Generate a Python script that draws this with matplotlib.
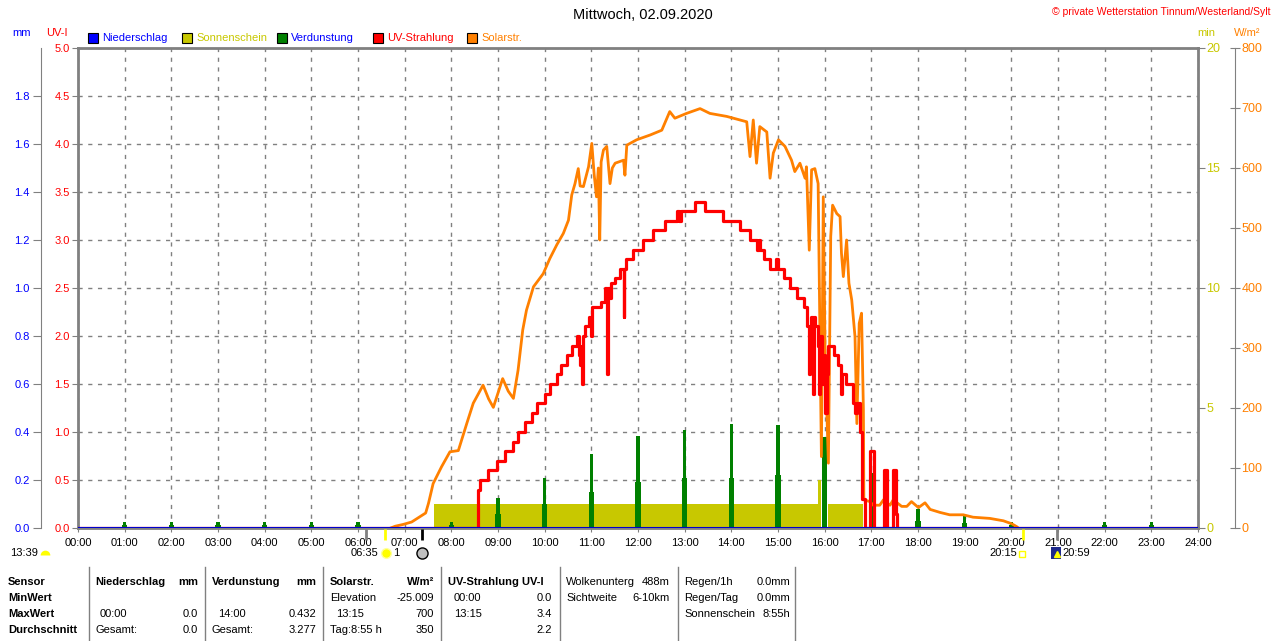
import numpy as np
import matplotlib
matplotlib.use("Agg")
import matplotlib.pyplot as plt
from matplotlib.patches import Rectangle
from matplotlib.lines import Line2D

plt.rcParams['font.family'] = ['Liberation Sans', 'DejaVu Sans']
plt.rcParams['font.size'] = 8

# --- data (hours of day) ---
hour_labels = ["%02d:00" % h for h in range(25)]

# UV index, step values
uv_t = [0, 8.58, 8.61, 8.79, 8.97, 9.15, 9.33, 9.43, 9.58, 9.72, 9.83, 10.01, 10.11, 10.26,
        10.36, 10.47, 10.58, 10.69, 10.74, 10.76, 10.79, 10.81, 10.83, 10.86, 10.94, 10.99,
        11.02, 11.20, 11.29, 11.33, 11.35, 11.40, 11.43, 11.51, 11.61, 11.69, 11.71, 11.74,
        11.90, 12.11, 12.33, 12.58, 12.83, 12.88, 12.92, 13.22, 13.43, 13.83, 14.18, 14.40,
        14.54, 14.59, 14.62, 14.69, 14.83, 14.95, 15.00, 15.12, 15.25, 15.40, 15.55, 15.63,
        15.66, 15.69, 15.71, 15.74, 15.77, 15.80, 15.85, 15.88, 15.91, 15.95, 15.98, 16.01,
        16.04, 16.08, 16.20, 16.28, 16.34, 16.37, 16.45, 16.52, 16.60, 16.66, 16.70, 16.76,
        16.80, 16.86, 16.97, 17.06, 17.28, 17.33, 17.47, 17.53, 17.56, 24]
uv_v = [0, 0.4, 0.5, 0.6, 0.7, 0.8, 0.9, 1.0, 1.1, 1.2, 1.3, 1.4, 1.5, 1.6,
        1.7, 1.8, 1.9, 2.0, 1.8, 1.7, 1.9, 1.5, 2.0, 2.1, 2.2, 2.0,
        2.3, 2.35, 2.5, 1.6, 2.5, 2.4, 2.55, 2.6, 2.7, 2.2, 2.7, 2.8,
        2.9, 3.0, 3.1, 3.2, 3.3, 3.2, 3.3, 3.4, 3.3, 3.2, 3.1, 3.0,
        2.9, 3.0, 2.9, 2.8, 2.7, 2.8, 2.7, 2.6, 2.5, 2.4, 2.3, 2.1,
        1.6, 2.1, 2.2, 1.4, 2.2, 2.1, 1.9, 1.4, 2.0, 1.5, 1.8, 1.2,
        1.6, 1.9, 1.8, 1.7, 1.4, 1.6, 1.5, 1.5, 1.3, 1.2, 1.3, 1.0,
        0.3, 0, 0.8, 0, 0.6, 0, 0.6, 0.15, 0, 0]

# solar radiation W/m2
sol_t = [6.70, 6.80, 6.97, 7.15, 7.33, 7.45, 7.51, 7.61, 7.79, 7.97, 8.15, 8.33, 8.47, 8.68,
         8.80, 8.90, 9.10, 9.22, 9.33, 9.43, 9.53, 9.61, 9.76, 9.97, 10.11, 10.26, 10.40,
         10.51, 10.58, 10.65, 10.72, 10.76, 10.83, 10.94, 11.01, 11.06, 11.11, 11.15, 11.18,
         11.21, 11.26, 11.33, 11.40, 11.45, 11.51, 11.69, 11.72, 11.76, 11.97, 12.26, 12.51,
         12.68, 12.79, 13.04, 13.33, 13.54, 13.90, 14.33, 14.40, 14.47, 14.54, 14.61, 14.76,
         14.83, 14.90, 15.01, 15.15, 15.29, 15.36, 15.47, 15.58, 15.61, 15.67, 15.72, 15.79,
         15.86, 15.93, 15.97, 16.01, 16.08, 16.13, 16.17, 16.26, 16.33, 16.36, 16.40, 16.47,
         16.52, 16.58, 16.65, 16.69, 16.74, 16.79, 16.83, 16.84, 16.97, 17.04, 17.18, 17.26,
         17.40, 17.47, 17.65, 17.76, 17.86, 18.01, 18.15, 18.26, 18.47, 18.68, 18.97, 19.18,
         19.54, 19.83, 20.01, 20.12, 20.15]
sol_v = [0, 3, 6, 10, 19, 25, 41, 74, 102, 127, 129, 174, 208, 238,
         215, 201, 249, 228, 216, 263, 330, 363, 402, 424, 449, 472, 491,
         513, 555, 574, 599, 570, 569, 602, 641, 590, 552, 600, 480,
         610, 630, 636, 574, 600, 608, 613, 588, 638, 647, 655, 663,
         694, 683, 691, 699, 691, 686, 677, 619, 680, 608, 669, 660,
         583, 625, 647, 636, 613, 594, 608, 583, 602, 463, 597, 599,
         574, 119, 552, 286, 108, 486, 538, 524, 519, 458, 419, 480,
         408, 380, 319, 174, 341, 358, 197, 47, 44, 38, 38, 47,
         38, 47, 36, 36, 44, 34, 42, 31, 26, 22, 22, 18,
         16, 12, 7, 2, 0]

# sunshine minutes (step)
sun_t = [0, 7.63, 15.85, 15.93, 16.08, 16.83, 24]
sun_v = [0, 1, 2, 0, 1, 0, 0]

# evaporation mm per hour
evap_h = [1, 2, 3, 4, 5, 6, 8, 9, 10, 11, 12, 13, 14, 15, 16, 17, 18, 19, 20, 22, 23]
evap_hi = [0.025, 0.025, 0.025, 0.025, 0.025, 0.025, 0.025, 0.126, 0.207, 0.308, 0.383,
           0.408, 0.432, 0.43, 0.38, 0.23, 0.078, 0.051, 0.026, 0.025, 0.025]
evap_lo = [0.012, 0.012, 0.012, 0.012, 0.012, 0.012, 0.012, 0.06, 0.10, 0.15, 0.19,
           0.21, 0.21, 0.22, 0.38, 0.23, 0.03, 0.02, 0.012, 0.012, 0.012]

# sun / moon event marks below the axis
mark_t = [6.17, 6.58, 7.37, 20.25, 20.98]
mark_c = ['#808080', '#FFFF00', '#000000', '#FFFF00', '#808080']

OLIVE = '#C8C800'
ORANGE = '#FF8000'
GRAY = '#808080'

W, H = 1280, 641
def fx(x):
    return x / W
def fy(y):
    return 1 - y / H

fig = plt.figure(figsize=(12.8, 6.41), dpi=100)
ax = fig.add_axes([fx(78), fy(528), 1120 / W, 480 / H])

ax.set_xlim(0, 24)
ax.set_ylim(0, 5)
ax.set_xticks(range(25))
ax.set_xticklabels(hour_labels)
ax.set_yticks(np.arange(0, 5.01, 0.5))
ax.set_yticklabels(["%.1f" % v for v in np.arange(0, 5.01, 0.5)])
ax.tick_params(axis='y', colors=GRAY, labelcolor='red', length=4, pad=2)
ax.tick_params(axis='x', colors=GRAY, labelcolor='black', length=3, pad=4)
ax.grid(True, color=GRAY, linestyle=(0, (3, 4)), linewidth=1)
for s in ax.spines.values():
    s.set_color(GRAY)
    s.set_linewidth(2)

def clean(a):
    for s in a.spines.values():
        s.set_visible(False)

# sunshine
ax_min = ax.twinx()
clean(ax_min)
ax_min.set_ylim(0, 20)
ax_min.set_yticks([0, 5, 10, 15, 20])
ax_min.tick_params(axis='y', colors=GRAY, labelcolor=OLIVE, length=5, pad=1, labelsize=9)
ax_min.fill_between(sun_t, sun_v, step='post', color=OLIVE, linewidth=0)

# evaporation
ax_mm = ax.twinx()
clean(ax_mm)
ax_mm.spines['left'].set_visible(True)
ax_mm.spines['left'].set_position(('axes', -0.033))
ax_mm.spines['left'].set_color(GRAY)
ax_mm.yaxis.set_ticks_position('left')
ax_mm.set_ylim(0, 2.0)
ax_mm.set_yticks(np.arange(0, 1.81, 0.2))
ax_mm.set_yticklabels(["%.1f" % v for v in np.arange(0, 1.81, 0.2)])
ax_mm.tick_params(axis='y', colors=GRAY, labelcolor='blue', length=6, pad=2)
ax_mm.bar(evap_h, evap_lo, width=0.11, color='#008000', linewidth=0)
ax_mm.bar(evap_h, evap_hi, width=0.065, color='#008000', linewidth=0)

# solar
ax_sol = ax.twinx()
clean(ax_sol)
ax_sol.spines['right'].set_visible(True)
ax_sol.spines['right'].set_position(('axes', 1.033))
ax_sol.spines['right'].set_color(GRAY)
ax_sol.set_ylim(0, 800)
ax_sol.set_yticks(range(0, 801, 100))
ax_sol.tick_params(axis='y', colors=GRAY, labelcolor=ORANGE, direction='inout', length=7, pad=1, labelsize=9)
ax_sol.plot(sol_t, sol_v, color=ORANGE, linewidth=2)

# uv
ax_uv = ax.twinx()
clean(ax_uv)
ax_uv.set_ylim(0, 5)
ax_uv.set_yticks([])
ax_uv.plot(uv_t, uv_v, color='#FF0000', linewidth=2.3, drawstyle='steps-post')
ax_uv.axhline(0, color='#0000CC', linewidth=1.5, zorder=5)
ax_uv.vlines(mark_t, -0.13, -0.015, colors=mark_c, linewidth=2, clip_on=False)

# --- header texts ---
fig.text(fx(643), fy(15), "Mittwoch, 02.09.2020", ha='center', va='center', fontsize=10.5)
fig.text(fx(1271), fy(12), "© private Wetterstation Tinnum/Westerland/Sylt",
         ha='right', va='center', color='red', fontsize=7.5)
fig.text(fx(22), fy(33), "mm", ha='center', va='center', color='blue')
fig.text(fx(57), fy(33), "UV-I", ha='center', va='center', color='red')
fig.text(fx(1206), fy(33), "min", ha='center', va='center', color=OLIVE)
fig.text(fx(1247), fy(33), "W/m²", ha='center', va='center', color=ORANGE)

legend = [(88, '#0000FF', "Niederschlag", '#0000FF'),
          (182, OLIVE, "Sonnenschein", OLIVE),
          (277, '#008000', "Verdunstung", '#0000FF'),
          (373, '#FF0000', "UV-Strahlung", '#FF0000'),
          (467, ORANGE, "Solarstr.", ORANGE)]
for x0, fc, label, tc in legend:
    fig.add_artist(Rectangle((fx(x0), fy(43)), 10 / W, 10 / H, transform=fig.transFigure,
                             facecolor=fc, edgecolor='black', linewidth=0.8))
    fig.text(fx(x0 + 14), fy(38), label, va='center', color=tc)

# --- sun / moon labels under the axis ---
fig.text(fx(10), fy(553), "13:39", va='center')
fig.add_artist(Line2D([fx(45)], [fy(555)], marker='o', fillstyle='top', markersize=7,
                      color='#FFFF00', markeredgewidth=0, transform=fig.transFigure))
fig.text(fx(351), fy(553), "06:35", va='center')
fig.add_artist(Line2D([fx(386)], [fy(553)], marker='o', markersize=7, color='#FFFF00',
                      markeredgecolor='#FFFFA0', transform=fig.transFigure))
fig.text(fx(393), fy(553), "1", va='center')
fig.add_artist(Line2D([fx(422)], [fy(553)], marker='o', markersize=8, color='#C0C0C0',
                      markeredgecolor='black', markeredgewidth=1, transform=fig.transFigure))
fig.text(fx(989), fy(553), "20:15", va='center')
fig.add_artist(Line2D([fx(1022)], [fy(554)], marker='s', markersize=4, markerfacecolor='white',
                      markeredgecolor='#FFFF00', transform=fig.transFigure))
fig.add_artist(Rectangle((fx(1051), fy(559)), 10 / W, 12 / H, transform=fig.transFigure,
                         facecolor='#1E2A8C', edgecolor='none'))
fig.add_artist(Line2D([fx(1057)], [fy(554)], marker='^', markersize=4, color='#FFFF00',
                      transform=fig.transFigure))
fig.text(fx(1062), fy(553), "20:59", va='center')

# --- summary table ---
for xl in [89, 205, 323, 441, 560, 678, 795]:
    fig.add_artist(Line2D([fx(xl), fx(xl)], [fy(567), fy(641)], color=GRAY, linewidth=1,
                          transform=fig.transFigure))

rows_y = [582, 598, 614, 630]
for i, lab in enumerate(["Sensor", "MinWert", "MaxWert", "Durchschnitt"]):
    fig.text(fx(8), fy(rows_y[i]), lab, va='center', fontweight='bold')

left_cells = [
    (95, 0, "Niederschlag", True), (212, 0, "Verdunstung", True), (330, 0, "Solarstr.", True),
    (448, 0, "UV-Strahlung UV-I", True), (566, 0, "Wolkenunterg", False), (684, 0, "Regen/1h", False),
    (330, 1, "Elevation", False), (454, 1, "00:00", False), (566, 1, "Sichtweite", False),
    (684, 1, "Regen/Tag", False),
    (100, 2, "00:00", False), (218, 2, "14:00", False), (336, 2, "13:15", False),
    (454, 2, "13:15", False), (684, 2, "Sonnenschein", False),
    (95, 3, "Gesamt:", False), (212, 3, "Gesamt:", False), (330, 3, "Tag:8:55 h", False),
]
for x0, r, txt, bold in left_cells:
    fig.text(fx(x0), fy(rows_y[r]), txt, va='center', fontweight='bold' if bold else 'normal')

right_cells = [
    (198, 0, "mm", True), (316, 0, "mm", True), (434, 0, "W/m²", True),
    (670, 0, "488m", False), (790, 0, "0.0mm", False),
    (434, 1, "-25.009", False), (552, 1, "0.0", False), (670, 1, "6-10km", False),
    (790, 1, "0.0mm", False),
    (198, 2, "0.0", False), (316, 2, "0.432", False), (434, 2, "700", False),
    (552, 2, "3.4", False), (790, 2, "8:55h", False),
    (198, 3, "0.0", False), (316, 3, "3.277", False), (434, 3, "350", False), (552, 3, "2.2", False),
]
for x1, r, txt, bold in right_cells:
    fig.text(fx(x1), fy(rows_y[r]), txt, va='center', ha='right',
             fontweight='bold' if bold else 'normal')

fig.savefig("out.png", dpi=100, facecolor='white')
